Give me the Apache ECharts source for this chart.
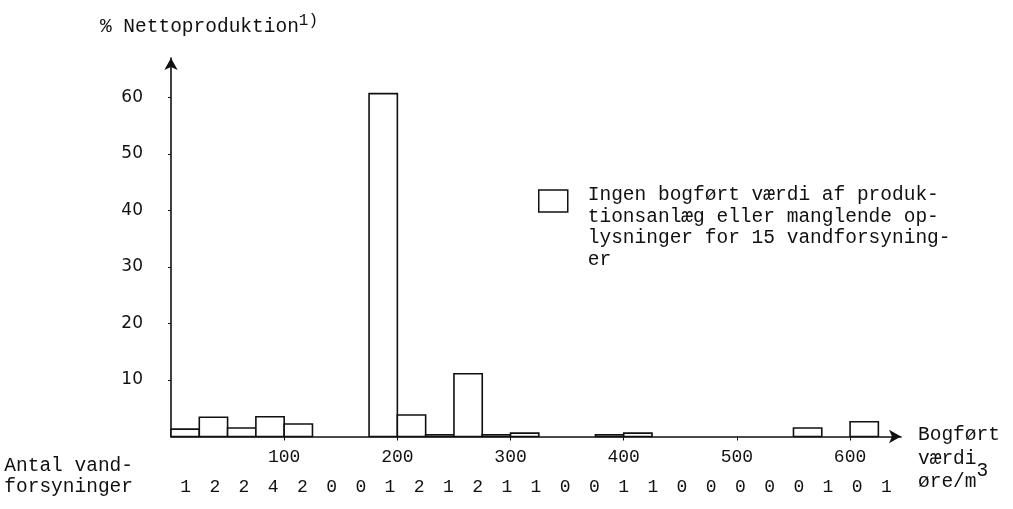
<!DOCTYPE html>
<html>
<head>
<meta charset="utf-8">
<title>Nettoproduktion</title>
<script src="https://cdn.jsdelivr.net/npm/echarts@6/dist/echarts.min.js"></script>
<style>
  html, body { margin: 0; padding: 0; background: #fff; }
  #chart { width: 1013px; height: 509px; }
</style>
</head>
<body>
<div id="chart"></div>
<script>
// bogført værdi, øre/m3 (start of each 25-wide class)
var binStart = [0, 25, 50, 75, 100, 125, 150, 175, 200, 225, 250, 275, 300,
  325, 350, 375, 400, 425, 450, 475, 500, 525, 550, 575, 600]
var binWidth = 25
// % nettoproduktion per class
var netPct = [1.3, 3.4, 1.5, 3.5, 2.2, 0, 0, 60.7, 3.8, 0.3, 11.1, 0.3, 0.6,
  0, 0, 0.3, 0.6, 0, 0, 0, 0, 0, 1.5, 0, 2.6]
// antal vandforsyninger per class
var antal = [1, 2, 2, 4, 2, 0, 0, 1, 2, 1, 2, 1, 1, 0, 0, 1, 1, 0, 0, 0, 0, 0, 1, 0, 1]

var legendName = 'Ingen bogført værdi af produk-\ntionsanlæg eller manglende op-\nlysninger for 15 vandforsyning-\ner'

var mono = 'Liberation Mono'
var ink = '#111'

var chart = echarts.init(document.getElementById('chart'))

var bins = binStart.map(function (s, i) {
  return [s, s + binWidth, netPct[i]]
})

function renderBin (params, api) {
  var v = api.value(2)
  if (!v) return null
  var top = api.coord([api.value(0), v])
  var base = api.coord([api.value(1), 0])
  return {
    type: 'rect',
    shape: { x: top[0], y: top[1], width: base[0] - top[0], height: base[1] - top[1] },
    style: { fill: '#fff', stroke: ink, lineWidth: 1.6 }
  }
}

var option = {
  animation: false,
  backgroundColor: '#fff',
  grid: {
    left: 171,
    right: 112,
    top: 58,
    bottom: 72.5,
    outerBoundsMode: 'none'
  },
  legend: {
    left: 538,
    top: 184,
    padding: 0,
    selectedMode: false,
    // box sits at the top of a taller item so the text hangs below it
    icon: 'path://M0,0 L29,0 L29,22 L0,22 Z M0,75 L0,75',
    itemWidth: 29,
    itemHeight: 75,
    itemStyle: { color: '#fff', borderColor: ink, borderWidth: 1.5 },
    textStyle: {
      fontFamily: mono,
      fontSize: 19.5,
      lineHeight: 21.7,
      color: ink,
      padding: [0, 0, 0, 15]
    },
    data: [legendName]
  },
  xAxis: [{
    type: 'value',
    min: 0,
    max: 645,
    interval: 100,
    splitLine: { show: false },
    axisLine: {
      lineStyle: { color: ink, width: 1.6 },
      symbol: ['none', 'arrow'],
      symbolSize: [10, 12]
    },
    axisTick: { show: true, length: 4, lineStyle: { color: ink } },
    axisLabel: {
      showMinLabel: false,
      showMaxLabel: false,
      margin: 12,
      fontFamily: mono,
      fontSize: 18,
      color: ink
    },
    name: 'Bogført\nværdi\nøre/m{s|3}',
    nameLocation: 'end',
    nameGap: 17,
    nameTextStyle: {
      fontFamily: mono,
      fontSize: 19.5,
      lineHeight: 23.5,
      color: ink,
      padding: [44, 0, 0, 0],
      rich: {
        s: { fontFamily: mono, fontSize: 19.5, lineHeight: 20, padding: [0, 0, 22, 0], color: ink }
      }
    }
  }, {
    type: 'category',
    gridIndex: 0,
    position: 'bottom',
    offset: 40,
    data: antal.map(String),
    axisLine: { show: false },
    axisTick: { show: false },
    splitLine: { show: false },
    axisLabel: {
      interval: 0,
      margin: 2,
      fontFamily: mono,
      fontSize: 18,
      color: ink
    },
    name: 'Antal vand-\nforsyninger',
    nameLocation: 'start',
    nameGap: 38,
    nameTextStyle: {
      fontFamily: mono,
      fontSize: 19.5,
      lineHeight: 21,
      color: ink
    }
  }],
  yAxis: {
    type: 'value',
    min: 0,
    max: 67,
    interval: 10,
    splitLine: { show: false },
    axisLine: {
      show: true,
      lineStyle: { color: ink, width: 1.6 },
      symbol: ['none', 'arrow'],
      symbolSize: [10, 12]
    },
    axisTick: { show: true, length: 3, lineStyle: { color: ink } },
    axisLabel: {
      showMinLabel: false,
      showMaxLabel: false,
      margin: 28,
      fontFamily: 'DejaVu Sans',
      fontSize: 17,
      color: ink
    },
    name: '{m|% Nettoproduktion}{s|1)}',
    nameLocation: 'end',
    nameGap: 20,
    nameTextStyle: {
      align: 'center',
      padding: [0, 0, 0, 76],
      rich: {
        m: { fontFamily: mono, fontSize: 19.5, lineHeight: 22, color: ink },
        s: { fontFamily: mono, fontSize: 16, lineHeight: 16, padding: [0, 0, 12, 0], color: ink }
      }
    }
  },
  series: [{
    name: legendName,
    type: 'custom',
    renderItem: renderBin,
    encode: { x: [0, 1], y: 2 },
    itemStyle: { color: '#fff', borderColor: ink, borderWidth: 1.5 },
    data: bins
  }]
}

chart.setOption(option)
</script>
</body>
</html>
